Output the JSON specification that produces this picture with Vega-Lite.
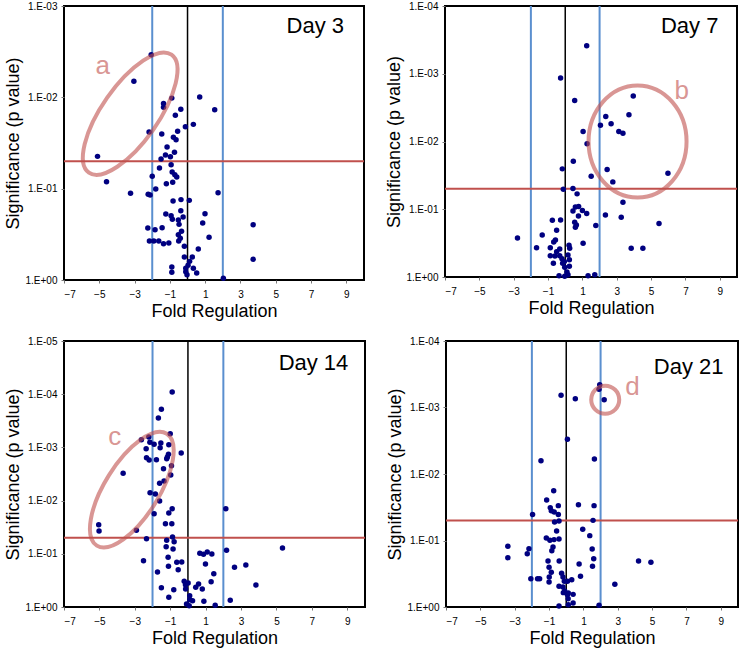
{
  "$schema": "https://vega.github.io/schema/vega-lite/v6.json",
  "padding": {"left": 3, "top": 0, "right": 0, "bottom": 0},
  "background": "white",
  "config": {
    "view": {"stroke": "black", "strokeWidth": 2},
    "font": "Liberation Sans",
    "axis": {
      "grid": false,
      "domain": false,
      "tickSize": 3,
      "tickColor": "#777777",
      "labelFontSize": 10,
      "labelColor": "black",
      "labelOverlap": false,
      "labelFont": "Liberation Sans",
      "titleFont": "Liberation Sans",
      "titleFontSize": 18,
      "titleFontWeight": "normal",
      "titleColor": "black"
    },
    "axisX": {"labelPadding": 6, "titlePadding": 3},
    "axisY": {"labelPadding": 4, "titlePadding": 3}
  },
  "datasets": {
    "d3": [
      {"fc": -2.06, "p": 0.00341}, {"fc": -3.04, "p": 0.00668}, {"fc": -0.89, "p": 0.0102}, {"fc": 0.69, "p": 0.0099},
      {"fc": -1.36, "p": 0.0117}, {"fc": -1.36, "p": 0.01285}, {"fc": -0.38, "p": 0.01352}, {"fc": 1.54, "p": 0.01365},
      {"fc": -0.69, "p": 0.01574}, {"fc": 0.33, "p": 0.01977}, {"fc": -0.12, "p": 0.02094}, {"fc": -2.18, "p": 0.02399},
      {"fc": -0.56, "p": 0.02355}, {"fc": -1.46, "p": 0.02518}, {"fc": -0.8, "p": 0.02742}, {"fc": -0.65, "p": 0.02911},
      {"fc": -1.16, "p": 0.035}, {"fc": -0.74, "p": 0.04}, {"fc": -1.25, "p": 0.0428}, {"fc": -0.97, "p": 0.0447},
      {"fc": -1.5, "p": 0.0473}, {"fc": -5.1, "p": 0.0443}, {"fc": -0.93, "p": 0.0546}, {"fc": -1.59, "p": 0.0594},
      {"fc": -0.87, "p": 0.0658}, {"fc": -0.72, "p": 0.0703}, {"fc": -2.0, "p": 0.0733}, {"fc": -0.61, "p": 0.0745},
      {"fc": -4.59, "p": 0.0838}, {"fc": -1.2, "p": 0.0881}, {"fc": -0.84, "p": 0.0853}, {"fc": -1.8, "p": 0.101},
      {"fc": -3.23, "p": 0.1125}, {"fc": -2.23, "p": 0.1153}, {"fc": -2.12, "p": 0.1172}, {"fc": 1.73, "p": 0.1107},
      {"fc": -0.82, "p": 0.1365}, {"fc": -0.37, "p": 0.1318}, {"fc": 0.1, "p": 0.1343}, {"fc": -0.38, "p": 0.1742},
      {"fc": -1.23, "p": 0.1892}, {"fc": -0.93, "p": 0.1977}, {"fc": 0.99, "p": 0.1879}, {"fc": -0.25, "p": 0.2042},
      {"fc": -0.86, "p": 0.2168}, {"fc": -0.52, "p": 0.2203}, {"fc": 0.86, "p": 0.2377}, {"fc": -0.48, "p": 0.246},
      {"fc": 3.72, "p": 0.2477}, {"fc": -2.25, "p": 0.2698}, {"fc": -1.84, "p": 0.2812}, {"fc": -1.44, "p": 0.2673},
      {"fc": -0.34, "p": 0.2931}, {"fc": -0.52, "p": 0.3192}, {"fc": 1.22, "p": 0.3412}, {"fc": -0.41, "p": 0.3499},
      {"fc": -2.16, "p": 0.3741}, {"fc": -1.91, "p": 0.3741}, {"fc": -1.63, "p": 0.3741}, {"fc": -1.36, "p": 0.3999},
      {"fc": -1.06, "p": 0.3936}, {"fc": -0.5, "p": 0.3741}, {"fc": -0.18, "p": 0.4276}, {"fc": 0.61, "p": 0.4581},
      {"fc": -0.18, "p": 0.5598}, {"fc": 0.27, "p": 0.5598}, {"fc": 3.72, "p": 0.5943}, {"fc": 0.12, "p": 0.6252},
      {"fc": 0.03, "p": 0.6902}, {"fc": -0.89, "p": 0.7211}, {"fc": -0.1, "p": 0.7447}, {"fc": 0.33, "p": 0.7447},
      {"fc": -0.89, "p": 0.824}, {"fc": -0.1, "p": 0.811}, {"fc": 0.52, "p": 0.8375}, {"fc": -0.03, "p": 0.875},
      {"fc": 2.03, "p": 0.9594}
    ],
    "d7": [
      {"fc": 1.25, "p": 0.000386}, {"fc": -0.27, "p": 0.001159}, {"fc": 0.55, "p": 0.002477}, {"fc": 3.96, "p": 0.002138},
      {"fc": 2.36, "p": 0.004276}, {"fc": 3.71, "p": 0.004036}, {"fc": 2.05, "p": 0.005741}, {"fc": 2.67, "p": 0.005483},
      {"fc": 1.04, "p": 0.007112}, {"fc": 3.12, "p": 0.007112}, {"fc": 3.36, "p": 0.007534}, {"fc": 1.27, "p": 0.01081},
      {"fc": 0.47, "p": 0.01954}, {"fc": -0.17, "p": 0.02535}, {"fc": 2.44, "p": 0.02594}, {"fc": 5.98, "p": 0.02938},
      {"fc": 1.51, "p": 0.03251}, {"fc": 2.77, "p": 0.03945}, {"fc": -0.11, "p": 0.05058}, {"fc": 0.45, "p": 0.04955},
      {"fc": 0.69, "p": 0.05929}, {"fc": 3.36, "p": 0.07889}, {"fc": 0.59, "p": 0.09247}, {"fc": 0.78, "p": 0.09141},
      {"fc": 0.45, "p": 0.1059}, {"fc": 1.0, "p": 0.1047}, {"fc": 1.25, "p": 0.1159}, {"fc": 0.77, "p": 0.1256},
      {"fc": 2.34, "p": 0.1213}, {"fc": -0.75, "p": 0.1455}, {"fc": -0.27, "p": 0.1439}, {"fc": 0.55, "p": 0.1556},
      {"fc": 3.26, "p": 0.1312}, {"fc": 0.59, "p": 0.1845}, {"fc": 0.65, "p": 0.1706}, {"fc": 5.46, "p": 0.1629},
      {"fc": 1.78, "p": 0.1742}, {"fc": -0.5, "p": 0.2042}, {"fc": -1.34, "p": 0.2393}, {"fc": -2.78, "p": 0.2655},
      {"fc": -0.57, "p": 0.2838}, {"fc": -0.67, "p": 0.3041}, {"fc": 1.04, "p": 0.3177}, {"fc": 0.22, "p": 0.3404},
      {"fc": -1.67, "p": 0.369}, {"fc": -0.87, "p": 0.369}, {"fc": 3.84, "p": 0.3767}, {"fc": 4.52, "p": 0.3767},
      {"fc": -0.32, "p": 0.3855}, {"fc": 0.26, "p": 0.3767}, {"fc": -0.5, "p": 0.4227}, {"fc": -0.87, "p": 0.4842},
      {"fc": -0.6, "p": 0.4898}, {"fc": -0.32, "p": 0.4842}, {"fc": 0.16, "p": 0.4732}, {"fc": -0.19, "p": 0.5358},
      {"fc": 0.24, "p": 0.5546}, {"fc": -0.69, "p": 0.6281}, {"fc": -0.15, "p": 0.6281}, {"fc": 0.24, "p": 0.695},
      {"fc": -0.03, "p": 0.7194}, {"fc": 0.1, "p": 0.8433}, {"fc": -0.36, "p": 0.955}, {"fc": -0.03, "p": 0.977},
      {"fc": 1.33, "p": 0.955}, {"fc": 1.72, "p": 0.9247}, {"fc": 0.16, "p": 0.9247}, {"fc": -0.05, "p": 0.5929}
    ],
    "d14": [
      {"fc": -0.89, "p": 0.000091}, {"fc": -1.5, "p": 0.0001923}, {"fc": -1.67, "p": 0.00028}, {"fc": -1.0, "p": 0.000552},
      {"fc": -2.63, "p": 0.000716}, {"fc": -2.21, "p": 0.000638}, {"fc": -2.15, "p": 0.000804}, {"fc": -1.91, "p": 0.000875},
      {"fc": -1.53, "p": 0.000826}, {"fc": -1.57, "p": 0.001012}, {"fc": -1.08, "p": 0.000889}, {"fc": -2.36, "p": 0.001057},
      {"fc": -1.1, "p": 0.001349}, {"fc": -0.38, "p": 0.001274}, {"fc": -1.16, "p": 0.001514}, {"fc": -2.34, "p": 0.00156},
      {"fc": -2.19, "p": 0.001726}, {"fc": -1.78, "p": 0.001702}, {"fc": -1.2, "p": 0.001629}, {"fc": -0.93, "p": 0.002203},
      {"fc": -1.38, "p": 0.002512}, {"fc": -0.97, "p": 0.003304}, {"fc": -3.66, "p": 0.003069}, {"fc": -1.35, "p": 0.004285},
      {"fc": -1.6, "p": 0.004732}, {"fc": -2.14, "p": 0.007096}, {"fc": -1.84, "p": 0.007516}, {"fc": -1.6, "p": 0.01019},
      {"fc": -0.89, "p": 0.01419}, {"fc": -1.08, "p": 0.0171}, {"fc": -1.91, "p": 0.01762}, {"fc": -5.04, "p": 0.02831},
      {"fc": -5.02, "p": 0.03724}, {"fc": -2.91, "p": 0.03622}, {"fc": -1.27, "p": 0.02716}, {"fc": -0.91, "p": 0.02716},
      {"fc": -0.87, "p": 0.0483}, {"fc": -0.78, "p": 0.05916}, {"fc": -2.34, "p": 0.052}, {"fc": -1.2, "p": 0.05585},
      {"fc": -1.23, "p": 0.07345}, {"fc": -0.84, "p": 0.08128}, {"fc": 2.14, "p": 0.01419}, {"fc": 2.18, "p": 0.0861},
      {"fc": 5.34, "p": 0.0778}, {"fc": -2.51, "p": 0.1346}, {"fc": -1.12, "p": 0.1164}, {"fc": -0.63, "p": 0.1445},
      {"fc": -0.35, "p": 0.1426}, {"fc": 0.67, "p": 0.0979}, {"fc": 0.88, "p": 0.1023}, {"fc": 1.09, "p": 0.0925},
      {"fc": 1.35, "p": 0.1009}, {"fc": 0.99, "p": 0.1556}, {"fc": 2.63, "p": 0.1795}, {"fc": 3.27, "p": 0.1626},
      {"fc": -1.72, "p": 0.2198}, {"fc": -0.55, "p": 0.1986}, {"fc": 1.46, "p": 0.236}, {"fc": -0.21, "p": 0.3296},
      {"fc": -0.14, "p": 0.3802}, {"fc": 0.01, "p": 0.354}, {"fc": -1.5, "p": 0.4335}, {"fc": -0.8, "p": 0.4721},
      {"fc": 0.44, "p": 0.4266}, {"fc": 0.6, "p": 0.3698}, {"fc": 0.81, "p": 0.4592}, {"fc": 1.31, "p": 0.3342},
      {"fc": 3.84, "p": 0.3855}, {"fc": -1.08, "p": 0.6577}, {"fc": 0.1, "p": 0.6124}, {"fc": 0.26, "p": 0.7603},
      {"fc": -0.08, "p": 0.879}, {"fc": 0.07, "p": 0.944}, {"fc": 0.9, "p": 0.7816}, {"fc": 1.54, "p": 0.931},
      {"fc": 2.39, "p": 0.7499}, {"fc": -1.1, "p": 0.1722}, {"fc": -0.13, "p": 0.4592}, {"fc": 0.1, "p": 0.7278}
    ],
    "d21": [
      {"fc": 1.95, "p": 0.000454}, {"fc": 1.91, "p": 0.000533}, {"fc": -0.3, "p": 0.000656}, {"fc": 0.53, "p": 0.000736},
      {"fc": 2.21, "p": 0.000762}, {"fc": 0.07, "p": 0.003013}, {"fc": -1.47, "p": 0.00631}, {"fc": 1.64, "p": 0.00594},
      {"fc": -0.73, "p": 0.01782}, {"fc": -1.14, "p": 0.0246}, {"fc": 0.71, "p": 0.0289}, {"fc": -0.46, "p": 0.0299},
      {"fc": 1.62, "p": 0.0299}, {"fc": -0.93, "p": 0.0321}, {"fc": -0.87, "p": 0.0356}, {"fc": -0.7, "p": 0.0372},
      {"fc": -1.96, "p": 0.0405}, {"fc": -0.46, "p": 0.0405}, {"fc": -0.68, "p": 0.0527}, {"fc": -0.42, "p": 0.0509},
      {"fc": 1.56, "p": 0.0498}, {"fc": 0.96, "p": 0.0679}, {"fc": -0.56, "p": 0.0719}, {"fc": 1.37, "p": 0.0845},
      {"fc": -1.16, "p": 0.0916}, {"fc": -0.95, "p": 0.0993}, {"fc": -0.71, "p": 0.097}, {"fc": -0.42, "p": 0.0948},
      {"fc": -0.77, "p": 0.1253}, {"fc": -3.4, "p": 0.1225}, {"fc": -3.4, "p": 0.1811}, {"fc": -2.17, "p": 0.1327},
      {"fc": -2.27, "p": 0.1578}, {"fc": 1.51, "p": 0.1343}, {"fc": -1.06, "p": 0.2032}, {"fc": -0.41, "p": 0.2032},
      {"fc": 1.6, "p": 0.1875}, {"fc": -0.84, "p": 0.1422}, {"fc": 4.21, "p": 0.2032}, {"fc": 4.93, "p": 0.2128},
      {"fc": 0.75, "p": 0.2254}, {"fc": 1.53, "p": 0.2443}, {"fc": -1.0, "p": 0.2529}, {"fc": -0.87, "p": 0.3013},
      {"fc": -0.27, "p": 0.3119}, {"fc": 0.83, "p": 0.3459}, {"fc": -2.06, "p": 0.375}, {"fc": -1.67, "p": 0.375},
      {"fc": -1.55, "p": 0.375}, {"fc": -0.99, "p": 0.354}, {"fc": -0.19, "p": 0.354}, {"fc": 0.32, "p": 0.3882},
      {"fc": -0.11, "p": 0.4111}, {"fc": -1.0, "p": 0.4207}, {"fc": 0.07, "p": 0.4111}, {"fc": 2.83, "p": 0.456},
      {"fc": -0.42, "p": 0.4887}, {"fc": -0.19, "p": 0.5}, {"fc": -0.09, "p": 0.5741}, {"fc": 0.07, "p": 0.6531},
      {"fc": 0.4, "p": 0.6457}, {"fc": 0.11, "p": 0.7499}, {"fc": 0.4, "p": 0.871}, {"fc": -0.42, "p": 0.966},
      {"fc": 0.12, "p": 0.9226}, {"fc": 1.91, "p": 0.944}, {"fc": -0.17, "p": 0.6081}, {"fc": 0.12, "p": 0.6166}
    ],
    "blueLines": [{"fc": -2}, {"fc": 2}],
    "zeroLine": [{"fc": 0}],
    "cutoff": [{"p": 0.05}]
  },
  "spacing": 14,
  "vconcat": [
    {
      "spacing": 18,
      "hconcat": [
        {
          "width": 300, "height": 274,
          "layer": [
            {"data": {"name": "blueLines"}, "mark": {"type": "rule", "color": "#5a8fcf", "strokeWidth": 2}, "encoding": {"x": {"field": "fc", "type": "quantitative"}}},
            {"data": {"name": "zeroLine"}, "mark": {"type": "rule", "color": "black", "strokeWidth": 1.5}, "encoding": {"x": {"field": "fc", "type": "quantitative"}}},
            {"data": {"name": "cutoff"}, "mark": {"type": "rule", "color": "#c0504d", "strokeWidth": 2}, "encoding": {"y": {"field": "p", "type": "quantitative"}}},
            {
              "data": {"name": "d3"},
              "mark": {"type": "circle", "size": 30, "color": "#000080", "opacity": 1},
              "encoding": {
                "x": {"field": "fc", "type": "quantitative", "title": "Fold Regulation", "scale": {"domain": [-7, 10], "nice": false, "zero": false}, "axis": {"values": [-7, -5, -3, -1, 1, 3, 5, 7, 9], "tickCount": 20, "labelOverlap": false}},
                "y": {"field": "p", "type": "quantitative", "title": "Significance (p value)", "scale": {"type": "log", "domain": [0.001, 1], "reverse": true, "nice": false}, "axis": {"values": [1, 0.1, 0.01, 0.001], "tickCount": 20, "labelOverlap": false, "labelExpr": "datum.value >= 1 ? '1.E+00' : '1.E-0' + round(-log(datum.value)/LN10)"}}
              }
            },
            {"data": {"values": [{"fc": -3.25, "p": 0.0151}]}, "mark": {"type": "point", "shape": "M-1,0A1,0.39,0,1,0,1,0A1,0.39,0,1,0,-1,0Z", "size": 20736, "angle": 305, "filled": false, "opacity": 1, "stroke": "#c0504d", "strokeOpacity": 0.6, "strokeWidth": 4}, "encoding": {"x": {"field": "fc", "type": "quantitative"}, "y": {"field": "p", "type": "quantitative"}}},
            {"data": {"values": [{"fc": -4.8, "p": 0.00457, "label": "a"}]}, "mark": {"type": "text", "fontSize": 26, "color": "#d99694", "align": "center", "baseline": "middle"}, "encoding": {"x": {"field": "fc", "type": "quantitative"}, "y": {"field": "p", "type": "quantitative"}, "text": {"field": "label"}}},
            {"data": {"values": [{"fc": 8.87, "p": 0.00198, "label": "Day 3"}]}, "mark": {"type": "text", "fontSize": 22, "color": "black", "align": "right", "baseline": "alphabetic"}, "encoding": {"x": {"field": "fc", "type": "quantitative"}, "y": {"field": "p", "type": "quantitative"}, "text": {"field": "label"}}}
          ]
        },
        {
          "width": 292, "height": 271,
          "layer": [
            {"data": {"name": "blueLines"}, "mark": {"type": "rule", "color": "#5a8fcf", "strokeWidth": 2}, "encoding": {"x": {"field": "fc", "type": "quantitative"}}},
            {"data": {"name": "zeroLine"}, "mark": {"type": "rule", "color": "black", "strokeWidth": 1.5}, "encoding": {"x": {"field": "fc", "type": "quantitative"}}},
            {"data": {"name": "cutoff"}, "mark": {"type": "rule", "color": "#c0504d", "strokeWidth": 2}, "encoding": {"y": {"field": "p", "type": "quantitative"}}},
            {
              "data": {"name": "d7"},
              "mark": {"type": "circle", "size": 30, "color": "#000080", "opacity": 1},
              "encoding": {
                "x": {"field": "fc", "type": "quantitative", "title": "Fold Regulation", "scale": {"domain": [-7, 10], "nice": false, "zero": false}, "axis": {"values": [-7, -5, -3, -1, 1, 3, 5, 7, 9], "tickCount": 20, "labelOverlap": false}},
                "y": {"field": "p", "type": "quantitative", "title": "Significance (p value)", "scale": {"type": "log", "domain": [0.0001, 1], "reverse": true, "nice": false}, "axis": {"values": [1, 0.1, 0.01, 0.001, 0.0001], "tickCount": 20, "labelOverlap": false, "labelExpr": "datum.value >= 1 ? '1.E+00' : '1.E-0' + round(-log(datum.value)/LN10)"}}
              }
            },
            {"data": {"values": [{"fc": 4.21, "p": 0.01}]}, "mark": {"type": "point", "shape": "M-0.875,0A0.875,1,0,1,0,0.875,0A0.875,1,0,1,0,-0.875,0Z", "size": 12544, "filled": false, "opacity": 1, "stroke": "#c0504d", "strokeOpacity": 0.6, "strokeWidth": 4}, "encoding": {"x": {"field": "fc", "type": "quantitative"}, "y": {"field": "p", "type": "quantitative"}}},
            {"data": {"values": [{"fc": 6.78, "p": 0.00178, "label": "b"}]}, "mark": {"type": "text", "fontSize": 26, "color": "#d99694", "align": "center", "baseline": "middle"}, "encoding": {"x": {"field": "fc", "type": "quantitative"}, "y": {"field": "p", "type": "quantitative"}, "text": {"field": "label"}}},
            {"data": {"values": [{"fc": 8.92, "p": 0.000251, "label": "Day 7"}]}, "mark": {"type": "text", "fontSize": 22, "color": "black", "align": "right", "baseline": "alphabetic"}, "encoding": {"x": {"field": "fc", "type": "quantitative"}, "y": {"field": "p", "type": "quantitative"}, "text": {"field": "label"}}}
          ]
        }
      ]
    },
    {
      "spacing": 18,
      "hconcat": [
        {
          "width": 301, "height": 266,
          "layer": [
            {"data": {"name": "blueLines"}, "mark": {"type": "rule", "color": "#5a8fcf", "strokeWidth": 2}, "encoding": {"x": {"field": "fc", "type": "quantitative"}}},
            {"data": {"name": "zeroLine"}, "mark": {"type": "rule", "color": "black", "strokeWidth": 1.5}, "encoding": {"x": {"field": "fc", "type": "quantitative"}}},
            {"data": {"name": "cutoff"}, "mark": {"type": "rule", "color": "#c0504d", "strokeWidth": 2}, "encoding": {"y": {"field": "p", "type": "quantitative"}}},
            {
              "data": {"name": "d14"},
              "mark": {"type": "circle", "size": 30, "color": "#000080", "opacity": 1},
              "encoding": {
                "x": {"field": "fc", "type": "quantitative", "title": "Fold Regulation", "scale": {"domain": [-7, 10], "nice": false, "zero": false}, "axis": {"values": [-7, -5, -3, -1, 1, 3, 5, 7, 9], "tickCount": 20, "labelOverlap": false}},
                "y": {"field": "p", "type": "quantitative", "title": "Significance (p value)", "scale": {"type": "log", "domain": [0.00001, 1], "reverse": true, "nice": false}, "axis": {"values": [1, 0.1, 0.01, 0.001, 0.0001, 0.00001], "tickCount": 20, "labelOverlap": false, "labelExpr": "datum.value >= 1 ? '1.E+00' : '1.E-0' + round(-log(datum.value)/LN10)"}}
              }
            },
            {"data": {"values": [{"fc": -3.17, "p": 0.00623}]}, "mark": {"type": "point", "shape": "M-1,0A1,0.41,0,1,0,1,0A1,0.41,0,1,0,-1,0Z", "size": 17424, "angle": 302, "filled": false, "opacity": 1, "stroke": "#c0504d", "strokeOpacity": 0.6, "strokeWidth": 4}, "encoding": {"x": {"field": "fc", "type": "quantitative"}, "y": {"field": "p", "type": "quantitative"}}},
            {"data": {"values": [{"fc": -4.14, "p": 0.000638, "label": "c"}]}, "mark": {"type": "text", "fontSize": 26, "color": "#d99694", "align": "center", "baseline": "middle"}, "encoding": {"x": {"field": "fc", "type": "quantitative"}, "y": {"field": "p", "type": "quantitative"}, "text": {"field": "label"}}},
            {"data": {"values": [{"fc": 9.06, "p": 0.0000356, "label": "Day 14"}]}, "mark": {"type": "text", "fontSize": 22, "color": "black", "align": "right", "baseline": "alphabetic"}, "encoding": {"x": {"field": "fc", "type": "quantitative"}, "y": {"field": "p", "type": "quantitative"}, "text": {"field": "label"}}}
          ]
        },
        {
          "width": 292, "height": 266,
          "layer": [
            {"data": {"name": "blueLines"}, "mark": {"type": "rule", "color": "#5a8fcf", "strokeWidth": 2}, "encoding": {"x": {"field": "fc", "type": "quantitative"}}},
            {"data": {"name": "zeroLine"}, "mark": {"type": "rule", "color": "black", "strokeWidth": 1.5}, "encoding": {"x": {"field": "fc", "type": "quantitative"}}},
            {"data": {"name": "cutoff"}, "mark": {"type": "rule", "color": "#c0504d", "strokeWidth": 2}, "encoding": {"y": {"field": "p", "type": "quantitative"}}},
            {
              "data": {"name": "d21"},
              "mark": {"type": "circle", "size": 30, "color": "#000080", "opacity": 1},
              "encoding": {
                "x": {"field": "fc", "type": "quantitative", "title": "Fold Regulation", "scale": {"domain": [-7, 10], "nice": false, "zero": false}, "axis": {"values": [-7, -5, -3, -1, 1, 3, 5, 7, 9], "tickCount": 20, "labelOverlap": false}},
                "y": {"field": "p", "type": "quantitative", "title": "Significance (p value)", "scale": {"type": "log", "domain": [0.0001, 1], "reverse": true, "nice": false}, "axis": {"values": [1, 0.1, 0.01, 0.001, 0.0001], "tickCount": 20, "labelOverlap": false, "labelExpr": "datum.value >= 1 ? '1.E+00' : '1.E-0' + round(-log(datum.value)/LN10)"}}
              }
            },
            {"data": {"values": [{"fc": 2.27, "p": 0.000762}]}, "mark": {"type": "point", "shape": "circle", "size": 784, "filled": false, "opacity": 1, "stroke": "#c0504d", "strokeOpacity": 0.6, "strokeWidth": 4}, "encoding": {"x": {"field": "fc", "type": "quantitative"}, "y": {"field": "p", "type": "quantitative"}}},
            {"data": {"values": [{"fc": 3.86, "p": 0.000492, "label": "d"}]}, "mark": {"type": "text", "fontSize": 26, "color": "#d99694", "align": "center", "baseline": "middle"}, "encoding": {"x": {"field": "fc", "type": "quantitative"}, "y": {"field": "p", "type": "quantitative"}, "text": {"field": "label"}}},
            {"data": {"values": [{"fc": 9.16, "p": 0.00031, "label": "Day 21"}]}, "mark": {"type": "text", "fontSize": 22, "color": "black", "align": "right", "baseline": "alphabetic"}, "encoding": {"x": {"field": "fc", "type": "quantitative"}, "y": {"field": "p", "type": "quantitative"}, "text": {"field": "label"}}}
          ]
        }
      ]
    }
  ]
}
